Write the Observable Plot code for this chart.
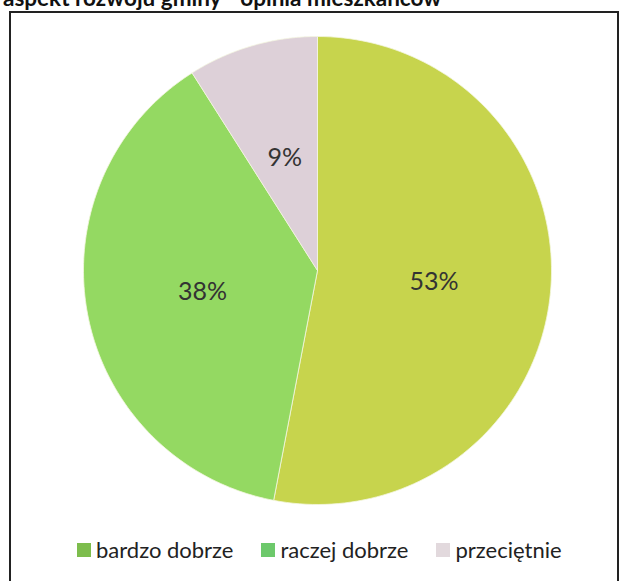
<!DOCTYPE html>
<html>
<head>
<meta charset="utf-8">
<script src="https://cdn.jsdelivr.net/npm/d3@7"></script>
<script src="https://cdn.jsdelivr.net/npm/@observablehq/plot@0.6"></script>
<style>
  html, body { margin: 0; padding: 0; background: #fff; }
  body { width: 619px; height: 581px; position: relative; overflow: hidden; font-family: Lato, "Open Sans", sans-serif; }
  #title { position: absolute; left: 3px; top: -17px; font-size: 22.5px; font-weight: bold; color: #111; white-space: nowrap; line-height: 30px; }
  #frame { position: absolute; left: 9px; top: 11px; width: 606px; height: 600px; border: 2px solid #222; border-bottom: none; }
  #chart { position: absolute; left: 83px; top: 36px; }
  #legend { position: absolute; top: 536px; left: 77px; display: flex; align-items: center; font-size: 22px; color: #222; }
  #legend .item { display: flex; align-items: center; margin-right: 28px; }
  #legend .sw { width: 14px; height: 14px; margin-right: 5px; }
</style>
</head>
<body>
<div id="title">aspekt rozwoju gminy - opinia mieszkańców</div>
<div id="frame"></div>
<div id="chart"></div>
<div id="legend"></div>
<script>
const categories = ["bardzo dobrze", "raczej dobrze", "przeciętnie"];
const values = [53, 38, 9];
const labels = ["53%", "38%", "9%"];
const sliceColors = ["#c7d44d", "#94d962", "#ddd0d8"];
const legendColors = ["#7dbd4d", "#6dc96b", "#e2d9dd"];

const pie = d3.pie().sort(null).value(d => d.value)(
  categories.map((c, i) => ({category: c, value: values[i], label: labels[i]}))
);

const pts = [];
pie.forEach(a => {
  const n = 120;
  pts.push({category: a.data.category, x: 0, y: 0});
  for (let k = 0; k <= n; k++) {
    const t = a.startAngle + (a.endAngle - a.startAngle) * k / n;
    pts.push({category: a.data.category, x: Math.sin(t), y: Math.cos(t)});
  }
  pts.push({category: a.data.category, x: 0, y: 0});
});
const labelPts = pie.map(a => {
  const m = (a.startAngle + a.endAngle) / 2;
  return {label: a.data.label, x: 0.5 * Math.sin(m), y: 0.5 * Math.cos(m)};
});

const size = 468;
const chart = Plot.plot({
  width: size, height: size, margin: 0,
  x: {domain: [-1, 1], axis: null},
  y: {domain: [-1, 1], axis: null},
  color: {domain: categories, range: sliceColors},
  marks: [
    Plot.line(pts, {x: "x", y: "y", z: "category", fill: "category", stroke: "#f4f6e0", strokeWidth: 0.8, curve: "linear"}),
    Plot.text(labelPts, {x: "x", y: "y", text: "label", fontSize: 25, fill: "#333", fontFamily: "Lato, sans-serif"})
  ],
  style: {background: "transparent", overflow: "visible"}
});
document.getElementById("chart").appendChild(chart);

const legend = document.getElementById("legend");
categories.forEach((c, i) => {
  const it = document.createElement("div");
  it.className = "item";
  const sw = document.createElement("div");
  sw.className = "sw";
  sw.style.background = legendColors[i];
  const tx = document.createElement("span");
  tx.textContent = c;
  it.appendChild(sw); it.appendChild(tx);
  legend.appendChild(it);
});
</script>
</body>
</html>
